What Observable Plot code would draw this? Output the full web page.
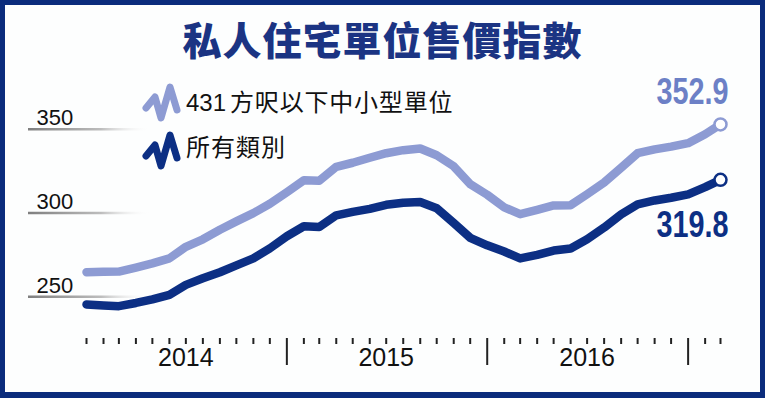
<!DOCTYPE html>
<html><head><meta charset="utf-8">
<script src="https://cdn.jsdelivr.net/npm/d3@7"></script>
<script src="https://cdn.jsdelivr.net/npm/@observablehq/plot@0.6"></script>
<style>
body{margin:0;background:#fff;}
#wrap{position:relative;width:765px;height:398px;overflow:hidden;background:#fdfefe;}
#chart{position:absolute;left:0;top:0;}
#frame{position:absolute;left:0;top:0;width:765px;height:398px;box-sizing:border-box;border:5px solid #0b2c7c;border-bottom-width:6px;pointer-events:none;}
#title{position:absolute;left:0;width:765px;top:14px;text-align:center;font-family:"Noto Sans CJK TC";font-weight:900;font-size:39px;line-height:48px;color:#1b3483;letter-spacing:1px;}
.legtext{position:absolute;left:186px;font-family:"Liberation Sans","Noto Sans CJK TC";font-size:24px;line-height:30px;color:#111;white-space:nowrap;}
.icon{position:absolute;left:140px;}
</style></head>
<body>
<div id="wrap">
  <div id="chart"></div>
  <div id="title">私人住宅單位售價指數</div>
  <svg class="icon" style="top:80px" width="44" height="44"><polyline points="6,28 15,17 21,38 30,7 37,30" fill="none" stroke="#8d9bd3" stroke-width="7" stroke-linecap="round" stroke-linejoin="round"/></svg>
  <div class="legtext" style="top:88px"><span>431</span><span style="margin-left:4px;letter-spacing:0.8px">方呎以下中小型單位</span></div>
  <svg class="icon" style="top:128px" width="44" height="44"><polyline points="6,28 15,17 21,38 30,7 37,30" fill="none" stroke="#0c2f84" stroke-width="7" stroke-linecap="round" stroke-linejoin="round"/></svg>
  <div class="legtext" style="top:133px;letter-spacing:1px">所有類別</div>
  <div id="frame"></div>
</div>
<script>
const months = ["2014-01","2014-02","2014-03","2014-04","2014-05","2014-06","2014-07","2014-08","2014-09","2014-10","2014-11","2014-12",
"2015-01","2015-02","2015-03","2015-04","2015-05","2015-06","2015-07","2015-08","2015-09","2015-10","2015-11","2015-12",
"2016-01","2016-02","2016-03","2016-04","2016-05","2016-06","2016-07","2016-08","2016-09","2016-10","2016-11","2016-12",
"2017-01","2017-02","2017-03"];
const smallUnits = [264.7,264.9,265.0,267.4,269.9,272.9,279.8,284.3,290.0,295.0,299.9,305.5,
312.4,319.5,319.2,327.6,330.0,333.0,335.7,337.5,338.5,334.5,327.9,317.2,
310.9,303.4,299.3,301.9,304.5,304.7,311.2,318.2,327.0,335.7,338.0,339.6,
341.7,347.0,352.9];
const allClasses = [245.4,244.8,244.4,246.3,248.4,251.1,257.1,261.0,264.6,268.7,272.9,278.9,
286.1,292.1,291.6,298.6,300.7,302.5,304.9,306.1,306.6,302.8,294.0,285.2,
280.7,277.0,272.9,275.0,277.6,278.8,284.3,291.3,299.2,305.2,307.5,309.1,
311.1,315.4,319.8];
const yTicks = [250, 300, 350];
const yearLabels = ["2014", "2015", "2016"];

const light = "#8d9bd3", lightText = "#6c80c6", dark = "#0c2f84";
const parse = d3.utcParse("%Y-%m");
const rows = months.map((m, i) => ({date: parse(m), small: smallUnits[i], all: allClasses[i]}));
const tickDates = months.map(parse);
const isMajor = d => d.getUTCMonth() === 0 && d.getUTCFullYear() > 2014;
const majorTicks = tickDates.filter(isMajor);
const minorTicks = tickDates.filter(d => !isMajor(d));
const yearMid = yearLabels.map(y => new Date(Date.UTC(+y, 6, 1)));
const last = rows[rows.length - 1];
const endFont = "'Liberation Sans',sans-serif";

const chart = Plot.plot({
  width: 765, height: 398,
  marginLeft: 86, marginRight: 45, marginTop: 112, marginBottom: 85,
  x: {type: "utc", domain: [rows[0].date, last.date], axis: null},
  y: {domain: [240, 360], axis: null},
  style: {background: "transparent", overflow: "visible", fontFamily: "'Liberation Sans', sans-serif"},
  marks: [
    Plot.ruleY(yTicks, {y: d => d, stroke: "url(#gridGrad)", strokeWidth: 2.5, insetLeft: -58, insetRight: 570}),
    Plot.text(yTicks, {y: d => d, text: d => String(d), frameAnchor: "left", textAnchor: "start", dx: -50, dy: -11, fontSize: 22, fill: "#111"}),
    Plot.ruleX(minorTicks, {x: d => d, insetTop: 226, insetBottom: -31, stroke: "#222", strokeWidth: 2}),
    Plot.ruleX(majorTicks, {x: d => d, insetTop: 226, insetBottom: -52, stroke: "#222", strokeWidth: 2}),
    Plot.text(yearMid, {x: d => d, text: (d, i) => yearLabels[i], frameAnchor: "bottom", dy: 52, fontSize: 25, fill: "#111"}),
    Plot.line(rows, {x: "date", y: "small", stroke: light, strokeWidth: 8.5, strokeLinejoin: "round", strokeLinecap: "round"}),
    Plot.line(rows, {x: "date", y: "all", stroke: dark, strokeWidth: 8.5, strokeLinejoin: "round", strokeLinecap: "round"}),
    Plot.dot([last], {x: "date", y: "small", r: 6, fill: "white", stroke: light, strokeWidth: 2.5}),
    Plot.dot([last], {x: "date", y: "all", r: 6, fill: "white", stroke: dark, strokeWidth: 2.5}),
    Plot.text([last], {x: "date", y: "small", text: d => d.small.toFixed(1), textAnchor: "end", dx: 8, dy: -32, fontSize: 37, fontWeight: "bold", fill: lightText, fontFamily: endFont}),
    Plot.text([last], {x: "date", y: "all", text: d => d.all.toFixed(1), textAnchor: "end", dx: 8, dy: 45, fontSize: 37, fontWeight: "bold", fill: dark, fontFamily: endFont})
  ]
});
const svg = d3.select(chart);
const grad = svg.insert("defs", ":first-child").append("linearGradient")
  .attr("id", "gridGrad").attr("gradientUnits", "userSpaceOnUse")
  .attr("x1", 28).attr("x2", 150).attr("y1", 0).attr("y2", 0);
grad.append("stop").attr("offset", "0%").attr("stop-color", "#7f7f7f");
grad.append("stop").attr("offset", "60%").attr("stop-color", "#bdbdbd");
grad.append("stop").attr("offset", "100%").attr("stop-color", "#ffffff").attr("stop-opacity", 0);
// condense the bold end labels like the reference's narrow typeface
svg.selectAll('g[font-size="37"] text').attr("textLength", 72).attr("lengthAdjust", "spacingAndGlyphs");
document.getElementById("chart").appendChild(chart);
</script>
</body></html>
